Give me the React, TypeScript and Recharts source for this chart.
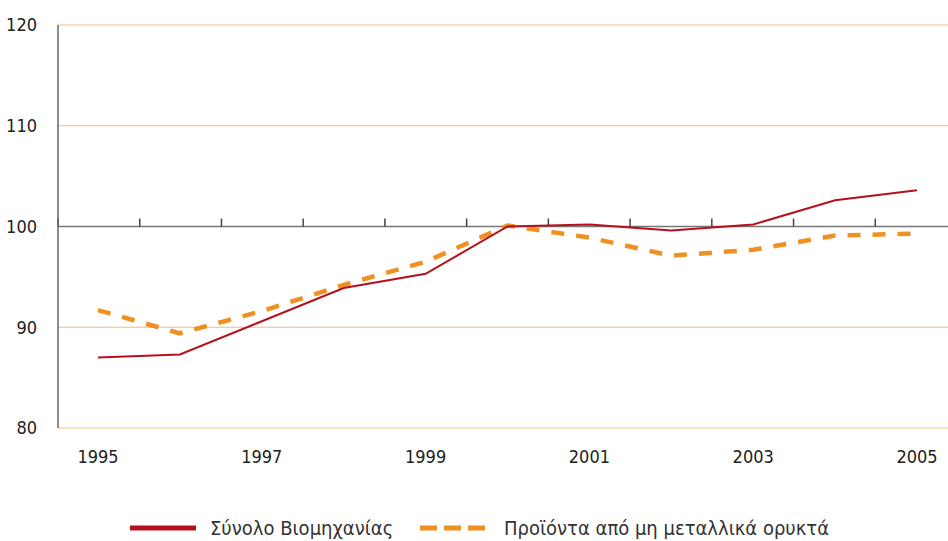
import React from "react"
import {
  LineChart,
  Line,
  XAxis,
  YAxis,
  CartesianGrid,
  ReferenceLine,
  Legend,
} from "recharts"

const years = ["1995", "1996", "1997", "1998", "1999", "2000", "2001", "2002", "2003", "2004", "2005"]
const totalIndustry = [87.0, 87.3, 90.6, 93.9, 95.3, 100.0, 100.2, 99.6, 100.2, 102.6, 103.6]
const nonMetallic = [91.7, 89.4, 91.6, 94.2, 96.5, 100.1, 98.9, 97.1, 97.7, 99.1, 99.3]
const yTicks = [80, 90, 100, 110, 120]

const FONT = "'Liberation Sans Narrow', 'DejaVu Sans Condensed', 'Liberation Sans', sans-serif"
const RED = "#b3121c"
const ORANGE = "#ef9020"

const chartData = years.map((y, i) => ({
  year: y,
  total: totalIndustry[i],
  nonmetal: nonMetallic[i],
}))

// gray base line at 100 with small upward ticks between the years
function BaseLine(props: any) {
  const { x1, x2, y1 } = props
  const n = years.length
  const step = (x2 - x1) / n
  const marks = []
  for (let k = 0; k < n; k++) {
    const x = x1 + step * k
    marks.push(<line key={k} x1={x} x2={x} y1={y1} y2={y1 - 8} stroke="#444" strokeWidth={1.5} />)
  }
  return (
    <g>
      <line x1={x1} x2={x2} y1={y1} y2={y1} stroke="#777" strokeWidth={1.5} />
      {marks}
    </g>
  )
}

function LegendContent() {
  return (
    <div
      style={{
        display: "flex",
        alignItems: "center",
        fontFamily: FONT,
        fontSize: 20,
        lineHeight: "22px",
        color: "#333",
        paddingLeft: 130,
        paddingTop: 39,
      }}
    >
      <svg width={66} height={10} style={{ marginRight: 14 }}>
        <line x1={0} x2={66} y1={5} y2={5} stroke={RED} strokeWidth={5} />
      </svg>
      <span style={{ width: 210, whiteSpace: "nowrap" }}>Σύνολο Βιομηχανίας</span>
      <svg width={65} height={10} style={{ marginRight: 19 }}>
        <line x1={0} x2={65} y1={5} y2={5} stroke={ORANGE} strokeWidth={5} strokeDasharray="17 7" />
      </svg>
      <span style={{ whiteSpace: "nowrap" }}>Προϊόντα από μη μεταλλικά ορυκτά</span>
    </div>
  )
}

export default function App() {
  return (
    <div style={{ position: "absolute", left: 0, top: 0, width: 948, height: 541, overflow: "hidden", background: "#fff" }}>
      <LineChart width={957} height={541} data={chartData} margin={{ top: 25, right: 0, left: 0, bottom: 0 }}>
        <CartesianGrid vertical={false} stroke="#f5bd80" strokeWidth={1} />
        <XAxis
          dataKey="year"
          interval={1}
          axisLine={false}
          tickLine={false}
          tickSize={0}
          tickMargin={22}
          height={50}
          padding={{ left: 40, right: 40 }}
          tick={{ fontSize: 18, fill: "#222", fontFamily: FONT }}
        />
        <YAxis
          domain={[80, 120]}
          ticks={yTicks}
          width={58}
          tickLine={false}
          tickSize={0}
          tickMargin={21}
          axisLine={{ stroke: "#666", strokeWidth: 1.5 }}
          tick={{ fontSize: 18, fill: "#222", fontFamily: FONT }}
        />
        <ReferenceLine y={100} shape={BaseLine} />
        <Line
          dataKey="nonmetal"
          stroke={ORANGE}
          strokeWidth={4.5}
          strokeDasharray="13 12"
          dot={false}
          isAnimationActive={false}
        />
        <Line dataKey="total" stroke={RED} strokeWidth={2} dot={false} isAnimationActive={false} />
        <Legend verticalAlign="bottom" height={63} content={<LegendContent />} />
      </LineChart>
    </div>
  )
}
